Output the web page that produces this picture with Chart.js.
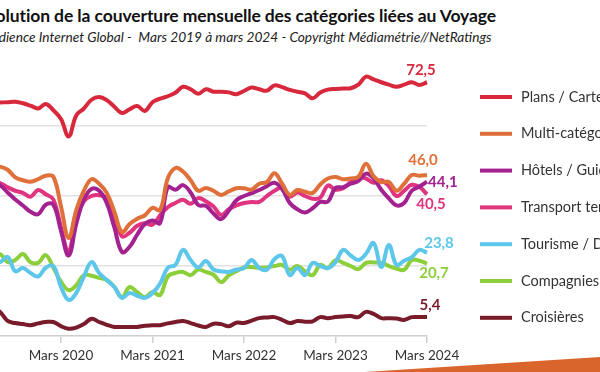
<!DOCTYPE html>
<html>
<head>
<meta charset="utf-8">
<script src="https://cdn.jsdelivr.net/npm/chart.js@4"></script>
<style>
  body { margin: 0; width: 600px; height: 372px; overflow: hidden; position: relative; background: #fff; font-family: Lato, sans-serif; }
  #title { position: absolute; left: -23px; top: 5px; font-size: 17.5px; font-weight: bold; color: #111; white-space: nowrap; letter-spacing: -0.1px; }
  #subtitle { position: absolute; left: -17px; top: 28px; font-size: 13.7px; font-style: italic; color: #222; white-space: nowrap; }
  #chart { position: absolute; left: -70px; top: 0; }
  #swoosh { position: absolute; left: 0; top: 0; width: 600px; height: 372px; background: #d9652c; clip-path: polygon(365px 372px, 600px 357px, 600px 372px); }
</style>
</head>
<body>
<div id="title">Évolution de la couverture mensuelle des catégories liées au Voyage</div>
<div id="subtitle">Audience Internet Global -&nbsp; Mars 2019 à mars 2024 - Copyright Médiamétrie//NetRatings</div>
<canvas id="chart" width="780" height="372"></canvas>
<div id="swoosh"></div>
<script>
// mois de mars 2019 à mars 2024
const monthNames = ['Mars', 'Avr.', 'Mai', 'Juin', 'Juil.', 'Août', 'Sept.', 'Oct.', 'Nov.', 'Déc.', 'Janv.', 'Févr.'];
const labels = [];
for (let i = 0; i <= 60; i++) {
  const year = 2019 + Math.floor((i + 2) / 12);
  labels.push(monthNames[i % 12] + ' ' + year);
}

const seriesNames = ['Plans / Cartes', 'Multi-catégories Voyage', 'Hôtels / Guides', 'Transport terrestre',
  'Tourisme / Destinations', 'Compagnies aériennes', 'Croisières'];

const plans = [
  66.5, 67.0, 66.8, 66.6, 66.7, 66.8, 66.9, 66.5, 65.8, 65.0, 66.3, 64.5,
  62.0, 57.0, 63.0, 65.0, 67.5, 68.3, 67.4, 65.5, 63.7, 64.8, 65.7, 64.3,
  66.8, 67.8, 68.5, 69.5, 71.2, 70.5, 69.2, 70.5, 69.8, 69.8, 69.6, 69.1,
  70.0, 71.0, 70.5, 70.1, 71.6, 71.1, 70.3, 69.8, 69.3, 67.9, 69.6, 70.4,
  70.6, 70.7, 70.8, 71.8, 74.1, 73.3, 72.5, 71.8, 71.2, 71.8, 72.5, 71.7,
  72.5];
const multi = [
  47.0, 47.5, 48.0, 48.5, 48.4, 47.5, 45.3, 44.5, 44.1, 44.8, 45.8, 45.5,
  37.0, 28.0, 36.0, 41.5, 44.8, 43.5, 40.9, 35.5, 29.7, 32.0, 33.5, 34.5,
  36.6, 36.0, 45.0, 48.0, 47.0, 44.5, 41.5, 42.3, 41.5, 40.3, 41.3, 42.2,
  42.2, 41.8, 43.5, 44.0, 46.5, 43.5, 40.3, 41.7, 41.2, 40.9, 43.3, 45.0,
  45.4, 44.8, 45.0, 45.5, 49.2, 45.6, 44.0, 44.0, 41.5, 43.5, 46.0, 45.8,
  46.0];
const hotels = [
  44.0, 44.5, 44.0, 43.5, 43.1, 41.0, 39.0, 37.3, 35.5, 34.8, 37.5, 37.5,
  30.0, 23.0, 32.0, 39.0, 42.0, 41.5, 38.0, 31.0, 24.0, 25.5, 29.0, 32.0,
  33.0, 32.3, 42.5, 41.8, 43.1, 41.0, 37.4, 37.2, 35.0, 33.4, 35.8, 38.8,
  40.0, 40.8, 41.7, 42.8, 43.8, 42.0, 38.0, 36.2, 35.3, 36.5, 38.3, 38.4,
  42.3, 42.5, 43.5, 44.3, 46.4, 45.0, 41.8, 39.3, 37.3, 38.0, 41.5, 42.7,
  44.1];
const transport = [
  43.0, 43.5, 44.0, 44.0, 43.7, 42.5, 41.5, 40.9, 39.8, 41.7, 40.5, 39.0,
  31.0, 24.0, 34.0, 38.5, 40.0, 40.2, 39.4, 34.0, 28.5, 29.5, 31.5, 32.2,
  31.8, 34.5, 36.8, 38.0, 38.9, 37.8, 39.4, 38.5, 37.0, 34.6, 36.2, 37.3,
  38.0, 38.3, 38.3, 40.0, 41.5, 42.3, 39.8, 41.0, 40.0, 39.2, 39.5, 43.0,
  41.8, 42.2, 44.0, 45.3, 45.0, 43.8, 44.5, 42.8, 40.0, 41.5, 43.2, 42.6,
  40.5];
const tourisme = [
  22.0, 21.5, 22.0, 21.5, 21.1, 22.6, 18.5, 19.4, 18.0, 17.0, 19.5, 20.0,
  14.0, 10.3, 12.3, 17.0, 21.1, 18.0, 16.0, 14.0, 10.9, 12.3, 11.5, 10.9,
  12.3, 15.0, 19.5, 20.3, 24.6, 21.7, 19.6, 21.4, 19.0, 18.5, 18.3, 19.0,
  19.4, 21.7, 19.4, 18.9, 22.0, 22.8, 17.4, 19.4, 17.4, 20.9, 20.0, 19.4,
  21.1, 24.6, 23.0, 21.7, 23.5, 26.6, 19.7, 26.0, 20.3, 21.5, 22.5, 24.6,
  23.8];
const compagnies = [
  22.0, 22.5, 23.0, 22.5, 23.4, 21.1, 21.7, 23.4, 21.1, 20.9, 23.1, 19.5,
  15.5, 13.1, 14.5, 17.4, 17.2, 16.6, 16.0, 14.0, 11.1, 14.0, 12.5, 11.1,
  12.6, 11.7, 17.0, 18.0, 18.3, 17.4, 19.0, 18.3, 17.5, 15.4, 17.3, 18.5,
  19.6, 19.7, 19.5, 19.6, 20.0, 20.3, 18.9, 20.0, 18.5, 17.4, 20.3, 19.4,
  21.7, 20.9, 20.0, 19.1, 20.9, 21.0, 20.9, 20.0, 19.3, 18.9, 21.7, 21.5,
  20.7];
const croisieres = [
  8.0, 8.5, 8.5, 8.3, 6.9, 4.3, 3.7, 3.4, 3.1, 3.6, 4.0, 4.0,
  2.8, 2.1, 2.4, 3.4, 4.9, 4.0, 3.2, 2.6, 2.6, 2.6, 2.6, 2.9,
  3.1, 3.1, 3.6, 4.0, 4.3, 3.7, 3.0, 2.6, 3.5, 3.4, 2.8, 3.8,
  3.7, 4.4, 5.1, 5.3, 5.4, 4.6, 3.7, 4.3, 4.1, 4.2, 5.4, 5.1,
  5.4, 5.6, 5.7, 5.4, 6.9, 6.3, 5.1, 5.1, 5.0, 4.6, 5.4, 5.4,
  5.4];

const allSeries = [plans, multi, hotels, transport, tourisme, compagnies, croisieres];
const colors = ['#d7283c', '#e0703a', '#a3228f', '#e0347f', '#5cc7ea', '#8ccf3b', '#7a1b2b'];
// position of the end-value label relative to the last point: [dx, dy, align]
const endLabelPos = [[-6, -12, 'center'], [-4, -15, 'center'], [1, 1, 'left'], [4, 10, 'center'],
  [12, -10, 'center'], [7, 10, 'center'], [3, -12, 'center']];

const endLabels = {
  id: 'endLabels',
  afterDatasetsDraw(chart) {
    const ctx = chart.ctx;
    ctx.save();
    ctx.font = 'bold 15px Lato';
    ctx.textBaseline = 'middle';
    chart.data.datasets.forEach((ds, i) => {
      const pt = chart.getDatasetMeta(i).data[ds.data.length - 1];
      const [dx, dy, align] = endLabelPos[i];
      ctx.fillStyle = colors[i];
      ctx.textAlign = align;
      ctx.fillText(ds.data[ds.data.length - 1].toFixed(1).replace('.', ','), pt.x + dx, pt.y + dy);
    });
    ctx.restore();
  }
};

const sideLegend = {
  id: 'sideLegend',
  afterDraw(chart) {
    const ctx = chart.ctx;
    const x0 = chart.chartArea.right + 53;
    ctx.save();
    ctx.font = '14.5px Lato';
    ctx.textBaseline = 'middle';
    chart.data.datasets.forEach((ds, i) => {
      const y = chart.chartArea.top + 41 + i * 36.8;
      ctx.strokeStyle = colors[i];
      ctx.lineWidth = 4;
      ctx.beginPath();
      ctx.moveTo(x0, y);
      ctx.lineTo(x0 + 32, y);
      ctx.stroke();
      ctx.fillStyle = '#333';
      ctx.fillText(ds.label, x0 + 41, y);
    });
    ctx.restore();
  }
};

new Chart(document.getElementById('chart'), {
  type: 'line',
  data: {
    labels,
    datasets: allSeries.map((data, i) => ({
      label: seriesNames[i],
      data,
      borderColor: colors[i],
      borderWidth: 4,
      pointRadius: 0,
      tension: 0.4,
      fill: false
    }))
  },
  options: {
    responsive: false,
    animation: false,
    layout: { padding: { top: 56, left: 39.5, right: 283, bottom: 0 } },
    plugins: { legend: { display: false }, tooltip: { enabled: false } },
    scales: {
      x: {
        offset: false,
        afterFit: s => { s.height = 36; },
        border: { display: true, color: '#cfcfcf', width: 1.5 },
        grid: {
          drawOnChartArea: false,
          tickLength: 7,
          color: c => (c.index % 12 === 0 ? '#cfcfcf' : 'rgba(0,0,0,0)'),
          lineWidth: 1.5
        },
        ticks: {
          autoSkip: false,
          maxRotation: 0,
          padding: 5,
          color: '#333',
          font: { family: 'Lato', size: 13.5 },
          // the first year sits outside the visible crop
          callback: (v, i) => (i > 0 && i % 12 === 0 ? labels[i] : '')
        }
      },
      y: {
        min: 0,
        max: 80,
        afterFit: s => { s.width = 0; },
        border: { display: false },
        ticks: { display: false, stepSize: 20 },
        grid: {
          drawTicks: false,
          color: c => (c.tick.value > 0 && c.tick.value < 80 ? '#e2e2e2' : 'rgba(0,0,0,0)'),
          lineWidth: 1.5
        }
      }
    }
  },
  plugins: [endLabels, sideLegend]
});
</script>
</body>
</html>
